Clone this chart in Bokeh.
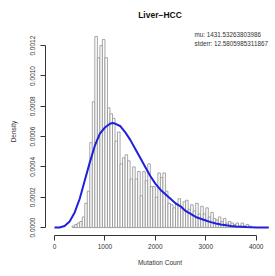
from bokeh.plotting import figure
from bokeh.models import FixedTicker, NumeralTickFormatter, Label, ColumnDataSource
from bokeh.embed import file_html
from bokeh.resources import INLINE

# ---- data ----
bin_width = 50
bin_left = [350, 400, 450, 500, 550, 600, 650, 700, 750, 800, 850, 900, 950, 1000,
            1050, 1100, 1150, 1200, 1250, 1300, 1350, 1400, 1450, 1500, 1550, 1600,
            1650, 1700, 1750, 1800, 1850, 1900, 1950, 2000, 2050, 2100, 2150, 2200,
            2250, 2300, 2350, 2400, 2450, 2500, 2550, 2600, 2650, 2700, 2750, 2800,
            2850, 2900, 2950, 3000, 3050, 3100, 3150, 3200, 3250, 3300, 3350, 3400,
            3450, 3500, 3550, 3600, 3650, 3700, 3750, 3800, 3850]
density = [0.00001, 0.00002, 0.00003, 0.00004, 0.00007, 0.00016, 0.00024, 0.00056,
           0.00083, 0.00126, 0.00112, 0.00120, 0.00124, 0.00112, 0.00079, 0.00075,
           0.00072, 0.00057, 0.00063, 0.00042, 0.00046, 0.00048, 0.00044, 0.00032,
           0.00040, 0.00032, 0.00037, 0.00021, 0.00037, 0.00031, 0.00042, 0.00027,
           0.00027, 0.00020, 0.00036, 0.00033, 0.00036, 0.00024, 0.00016, 0.00015,
           0.00013, 0.00016, 0.00019, 0.00013, 0.00017, 0.00018, 0.00012, 0.00015,
           0.00011, 0.00016, 0.00009, 0.00014, 0.00009, 0.00013, 0.00007, 0.00010,
           0.00006, 0.00005, 0.00007, 0.00004, 0.00006, 0.00003, 0.00004, 0.00003,
           0.00002, 0.00003, 0.00001, 0.00003, 0.00001, 0.00002, 0.00001]

curve_x = [0, 100, 200, 300, 400, 500, 600, 700, 800, 900, 1000, 1100, 1150, 1200,
           1300, 1400, 1500, 1600, 1700, 1800, 1900, 2000, 2100, 2200, 2300, 2400,
           2500, 2600, 2700, 2800, 2900, 3000, 3100, 3200, 3300, 3400, 3500, 3600,
           3700, 3800, 3900, 4000, 4100, 4250]
curve_y = [0.0, 0.000001, 0.00001, 0.00004, 0.00010, 0.00019, 0.00031, 0.00043,
           0.00054, 0.00062, 0.00066, 0.000685, 0.00069, 0.000686, 0.00067, 0.00063,
           0.00058, 0.00052, 0.00046, 0.00040, 0.00034, 0.00029, 0.00025, 0.00022,
           0.00019, 0.00016, 0.00014, 0.00011, 0.00009, 0.00007, 0.000058, 0.000047,
           0.000036, 0.000027, 0.00002, 0.000015, 0.00001, 0.000007, 0.000005,
           0.000003, 0.000002, 0.000001, 0.0000005, 0.0000002]

x_ticks = [0, 1000, 2000, 3000, 4000]
y_ticks = [0.0, 0.0002, 0.0004, 0.0006, 0.0008, 0.0010, 0.0012]

title_text = "Liver\u2212HCC"
x_label = "Mutation Count"
y_label = "Density"
mu_text = "mu: 1431.53263803986"
stderr_text = "stderr: 12.5805985311867"

FONT = "Liberation Sans"

src = ColumnDataSource(dict(left=bin_left,
                            right=[b + bin_width for b in bin_left],
                            top=density))

p = figure(width=274, height=275, output_backend="svg", toolbar_location=None,
           x_range=(-178.5, 4363), y_range=(-0.0000523, 0.0013195),
           min_border_left=45, min_border_right=0, min_border_top=25,
           min_border_bottom=40, title=title_text)
p.outline_line_color = None
p.xgrid.grid_line_color = None
p.ygrid.grid_line_color = None
p.background_fill_color = "white"
p.border_fill_color = "white"

p.title.align = "center"
p.title.text_font = FONT
p.title.text_font_size = "8.5px"
p.title.text_font_style = "bold"
p.title.text_color = "#111111"
p.title.standoff = 15

p.quad(left="left", right="right", top="top", bottom=0, source=src,
       fill_color="white", line_color="#8f8f8f", line_width=0.8)
p.line(curve_x, curve_y, line_color="#1f1fdc", line_width=2)

for ax in (p.xaxis[0], p.yaxis[0]):
    ax.axis_line_color = "#333333"
    ax.major_tick_line_color = "#333333"
    ax.minor_tick_line_color = None
    ax.major_tick_out = 5
    ax.major_tick_in = 0
    ax.major_label_text_font = FONT
    ax.major_label_text_font_size = "6.5px"
    ax.major_label_text_color = "#333333"
    ax.axis_label_text_font = FONT
    ax.axis_label_text_font_size = "6.5px"
    ax.axis_label_text_font_style = "normal"
    ax.axis_label_text_color = "#333333"

p.xaxis.ticker = FixedTicker(ticks=x_ticks)
p.xaxis.bounds = (0, 4000)
p.xaxis.formatter = NumeralTickFormatter(format="0")
p.xaxis.major_label_standoff = 3
p.xaxis.axis_label = x_label
p.xaxis.axis_label_standoff = 7

p.yaxis.ticker = FixedTicker(ticks=y_ticks)
p.yaxis.bounds = (0, 0.0012)
p.yaxis.formatter = NumeralTickFormatter(format="0.0000")
p.yaxis.major_label_orientation = "vertical"
p.yaxis.major_label_standoff = 5
p.yaxis.axis_label = y_label
p.yaxis.axis_label_standoff = 11

p.add_layout(Label(x=149, y=201, x_units="screen", y_units="screen",
                   text=mu_text, text_font=FONT, text_font_size="6.3px",
                   text_align="left", text_baseline="middle",
                   text_color="#333333"))
p.add_layout(Label(x=149, y=192, x_units="screen", y_units="screen",
                   text=stderr_text, text_font=FONT, text_font_size="6.3px",
                   text_align="left", text_baseline="middle",
                   text_color="#333333"))

open("out.html", "w").write(file_html(p, INLINE))
